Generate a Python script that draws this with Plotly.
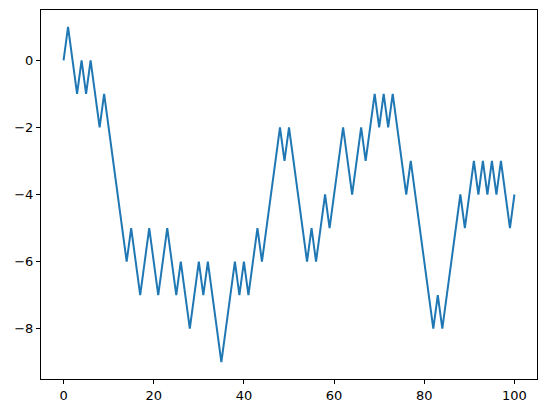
import plotly.graph_objects as go

# random walk positions
steps = list(range(101))
position = [0, 1, 0, -1, 0, -1, 0, -1, -2, -1,
            -2, -3, -4, -5, -6, -5, -6, -7, -6, -5,
            -6, -7, -6, -5, -6, -7, -6, -7, -8, -7,
            -6, -7, -6, -7, -8, -9, -8, -7, -6, -7,
            -6, -7, -6, -5, -6, -5, -4, -3, -2, -3,
            -2, -3, -4, -5, -6, -5, -6, -5, -4, -5,
            -4, -3, -2, -3, -4, -3, -2, -3, -2, -1,
            -2, -1, -2, -1, -2, -3, -4, -3, -4, -5,
            -6, -7, -8, -7, -8, -7, -6, -5, -4, -5,
            -4, -3, -4, -3, -4, -3, -4, -3, -4, -5,
            -4]

x_ticks = [0, 20, 40, 60, 80, 100]
y_ticks = [0, -2, -4, -6, -8]

fig = go.Figure()

fig.add_trace(go.Scatter(x=steps,
                         y=position,
                         mode='lines',
                         line=dict(color='#1f77b4', width=2),
                         hoverinfo='skip'))

axis_style = dict(showgrid=False,
                  zeroline=False,
                  showline=True,
                  linecolor='black',
                  linewidth=1,
                  mirror=True,
                  ticks='outside',
                  ticklen=4,
                  tickwidth=1,
                  tickcolor='black',
                  automargin=False,
                  tickfont=dict(family='DejaVu Sans', size=13, color='black'))

# the page body adds an 8px border, so the figure is a bit smaller than the window
fig.update_layout(width=530,
                  height=397,
                  showlegend=False,
                  plot_bgcolor='white',
                  paper_bgcolor='white',
                  margin=dict(l=32.5, r=1.3, t=2, b=25.5),
                  xaxis=dict(range=[-5, 105], tickvals=x_ticks, **axis_style),
                  yaxis=dict(range=[-9.5, 1.5], tickvals=y_ticks, **axis_style))

fig.write_html("out.html")
